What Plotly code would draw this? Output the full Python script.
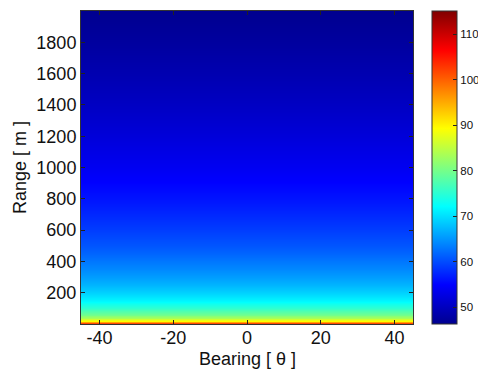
import plotly.graph_objects as go

# Bearing grid (degrees)
bearings = [-45, -30, -15, 0, 15, 30, 45]

ranges = [0, 2, 5, 10, 15, 20, 30, 40, 50, 60, 80, 100, 125, 150, 175, 200,
          250, 300, 350, 400, 450, 500, 600, 700, 800, 900, 1000, 1200,
          1400, 1600, 1800, 2000]
levels = [115.0, 109.5, 101.5, 95.5, 92.0, 89.5, 86.0, 83.4, 81.5, 79.9, 77.4,
          75.3, 73.4, 71.7, 70.4, 69.2, 67.1, 65.5, 64.1, 62.9, 61.8, 60.7,
          59.0, 57.5, 56.2, 55.0, 53.9, 52.0, 50.3, 48.9, 47.5, 46.3]

x_ticks = [-40, -20, 0, 20, 40]
x_tick_labels = ["-40", "-20", "0", "20", "40"]
y_ticks = [200, 400, 600, 800, 1000, 1200, 1400, 1600, 1800]
cb_ticks = [50, 60, 70, 80, 90, 100, 110]

jet = [
    [0.0, "rgb(0,0,143)"],
    [0.125, "rgb(0,0,255)"],
    [0.375, "rgb(0,255,255)"],
    [0.625, "rgb(255,255,0)"],
    [0.875, "rgb(255,0,0)"],
    [1.0, "rgb(128,0,0)"],
]

z = [[v for _ in bearings] for v in levels]

FONT = "Liberation Sans, Arial, sans-serif"

fig = go.Figure(go.Heatmap(
    x=bearings, y=ranges, z=z,
    colorscale=jet, zmin=46.3, zmax=115.1, zsmooth="best",
    colorbar=dict(
        x=(424 - 73) / 332, xanchor="left", xpad=0, ypad=0,
        y=0.5, yanchor="middle", len=1, lenmode="fraction",
        thickness=25, thicknessmode="pixels",
        outlinewidth=1, outlinecolor="#333",
        tickvals=cb_ticks, ticks="inside", ticklen=4, tickcolor="#222",
        tickfont=dict(family=FONT, size=11.5, color="#111"),
    ),
))

axis_common = dict(
    showline=True, linecolor="#333", linewidth=1, mirror="ticks",
    ticks="inside", ticklen=4, tickcolor="#222", showgrid=False, zeroline=False,
    tickfont=dict(family=FONT, size=18, color="#111"),
    automargin=False,
)

fig.update_xaxes(range=[-45, 45], tickvals=x_ticks, ticktext=x_tick_labels,
                 ticklabelstandoff=-3, **axis_common)
fig.update_yaxes(range=[0, 2000], tickvals=y_ticks,
                 title=dict(text="Range [ m ]", standoff=5,
                            font=dict(family=FONT, size=18, color="#111")),
                 **axis_common)

fig.add_annotation(
    text="Bearing [ θ ]", xref="paper", yref="paper",
    x=0.5, y=-(351 - 316) / 313, xanchor="center", yanchor="middle",
    showarrow=False, font=dict(family=FONT, size=18, color="#111"),
)

fig.update_layout(
    width=486, height=369,
    margin=dict(l=73, r=81, t=3, b=53),
    paper_bgcolor="white", plot_bgcolor="white",
)

fig.write_html("out.html")
